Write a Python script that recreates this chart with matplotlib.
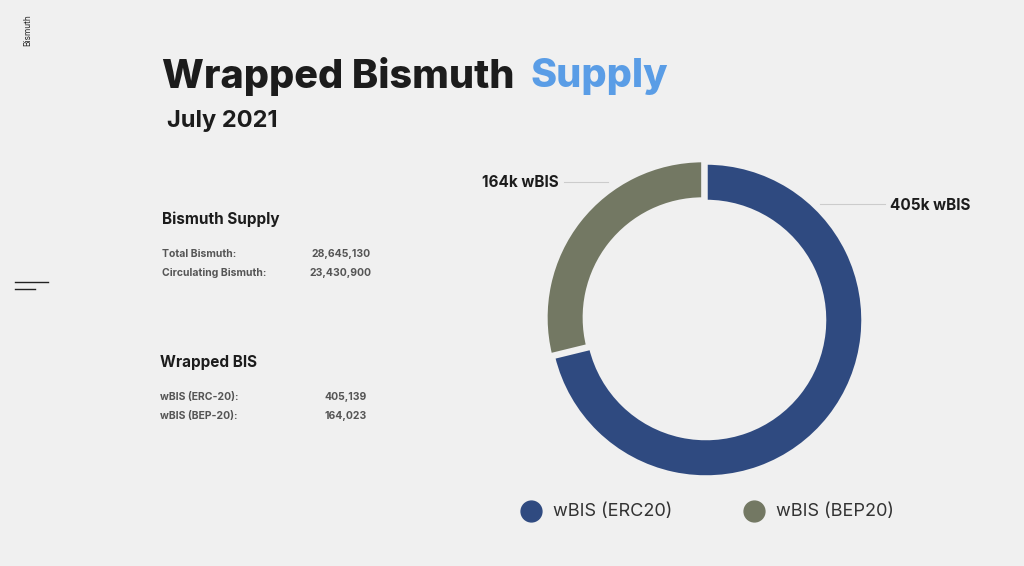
import matplotlib
matplotlib.use("Agg")
import matplotlib.pyplot as plt
from matplotlib.lines import Line2D

labels = ["wBIS (ERC20)", "wBIS (BEP20)"]
values = [405139, 164023]
slice_labels = ["405k wBIS", "164k wBIS"]
colors = ["#2f4a80", "#737863"]
supply_rows = [("Total Bismuth:", "28,645,130"), ("Circulating Bismuth:", "23,430,900")]
wrapped_rows = [("wBIS (ERC-20):", "405,139"), ("wBIS (BEP-20):", "164,023")]

W, H = 1024, 566
bg = "#f0f0f0"
fig = plt.figure(figsize=(W/100, H/100), dpi=100, facecolor=bg)
FONT = "Inter"

def px(x, y):
    return x / W, 1 - y / H

def t(x, y, s, **kw):
    kw.setdefault("family", FONT)
    return fig.text(*px(x, y), s, **kw)

# side decorations
t(28, 30, "Bismuth", rotation=90, fontsize=6, ha="center", va="center", color="#222")
fig.add_artist(Line2D([15/W, 48/W], [1-282/H]*2, color="#222", lw=1))
fig.add_artist(Line2D([15/W, 35/W], [1-289/H]*2, color="#222", lw=1))

# title
t(162, 76, "Wrapped Bismuth", fontsize=28.5, weight="heavy", va="center", color="#1c1c1c")
t(531, 76, "Supply", fontsize=28.5, weight="heavy", va="center", color="#5a9de6")
t(167, 121, "July 2021", fontsize=17, weight="bold", va="center", color="#1c1c1c")

# tables
t(162, 219, "Bismuth Supply", fontsize=11, weight="bold", va="center", color="#1c1c1c")
for i, (a, b) in enumerate(supply_rows):
    t(162, 254 + 19*i, a, fontsize=7.5, weight="bold", va="center", color="#555")
    t(371, 254 + 19*i, b, fontsize=7.5, weight="bold", va="center", ha="right", color="#555")
t(160, 362, "Wrapped BIS", fontsize=11, weight="bold", va="center", color="#1c1c1c")
for i, (a, b) in enumerate(wrapped_rows):
    t(160, 397 + 19*i, a, fontsize=7.5, weight="bold", va="center", color="#555")
    t(367, 397 + 19*i, b, fontsize=7.5, weight="bold", va="center", ha="right", color="#555")

# donut
cx, cy, R, half = 706, 320, 157, 170
ax = fig.add_axes([(cx-half)/W, 1-(cy+half)/H, 2*half/W, 2*half/H])
ax.set_facecolor(bg)
ax.pie(values, colors=colors, startangle=90, counterclock=False, radius=1,
       explode=[0, 0.025], wedgeprops=dict(width=0.245, edgecolor=bg, linewidth=2.5))
lim = half / R
ax.set_xlim(-lim, lim); ax.set_ylim(-lim, lim); ax.set_aspect("equal"); ax.axis("off")

# leader lines and labels
fig.add_artist(Line2D([820/W, 885/W], [1-204/H]*2, color="#cccccc", lw=0.8))
t(890, 205, slice_labels[0], fontsize=11, weight="bold", va="center", color="#1c1c1c")
fig.add_artist(Line2D([564/W, 608/W], [1-182/H]*2, color="#cccccc", lw=0.8))
t(559, 182, slice_labels[1], fontsize=11, weight="bold", va="center", ha="right", color="#1c1c1c")

# legend
for (x, lab, c) in [(531, labels[0], colors[0]), (754, labels[1], colors[1])]:
    fig.add_artist(Line2D([x/W], [1-511/H], marker="o", markersize=15, color=c, lw=0))
    t(x + 22, 511, lab, fontsize=13, va="center", color="#333")

fig.savefig("out.png", dpi=100, facecolor=bg)
